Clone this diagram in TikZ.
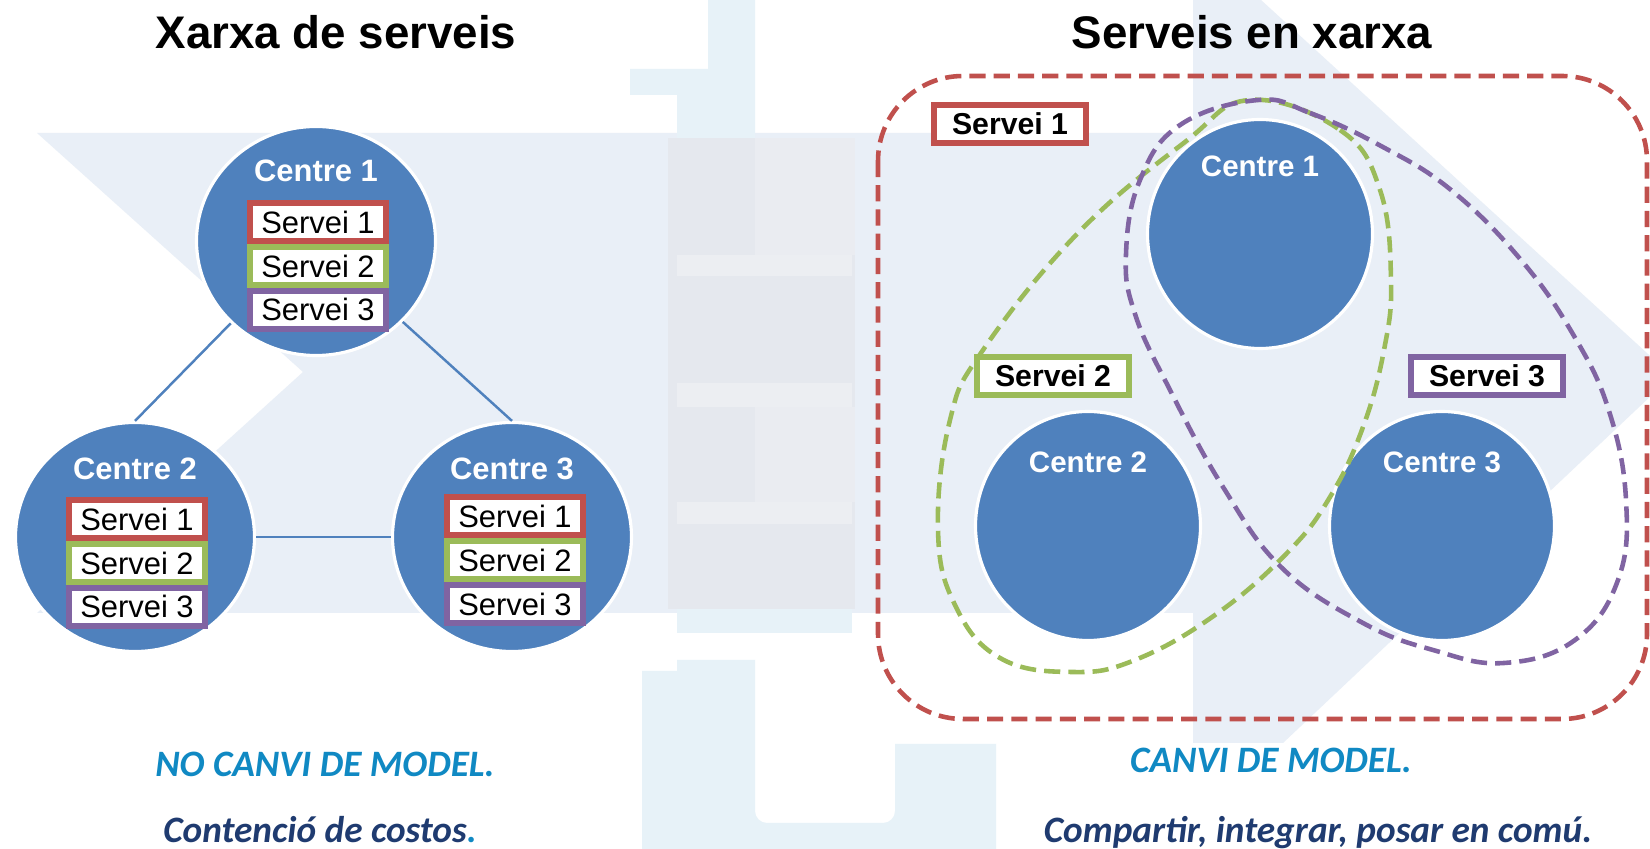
\documentclass[tikz,border=0pt]{standalone}
\usepackage{fontspec}
\setmainfont{Liberation Sans}
\newfontfamily\calibri{Carlito}
\usepackage{tikz}
\usetikzlibrary{shapes.geometric,positioning}

\definecolor{nodeblue}{RGB}{79,129,189}
\definecolor{s1red}{RGB}{192,80,77}
\definecolor{s2green}{RGB}{155,187,89}
\definecolor{s3purple}{RGB}{128,100,162}
\definecolor{band}{RGB}{233,239,247}
\definecolor{greyA}{RGB}{229,232,238}
\definecolor{greyB}{RGB}{234,236,241}
\definecolor{greyC}{RGB}{236,238,242}
\definecolor{pale}{RGB}{231,242,248}
\definecolor{txtcyan}{RGB}{16,137,195}
\definecolor{txtnavy}{RGB}{31,59,112}

\begin{document}
\begin{tikzpicture}[x=0.1mm,y=-0.1mm,
  centre/.style={ellipse,fill=nodeblue,draw=white,line width=0.9pt,inner sep=0pt,
    minimum width=23.9mm,minimum height=22.9mm},
  rcentre/.style={centre,minimum width=22.5mm,minimum height=22.9mm},
  ctext/.style={text=white,inner sep=0pt,font=\bfseries\fontsize{8.8}{10}\selectfont},
  rctext/.style={ctext,font=\bfseries\fontsize{8.4}{10}\selectfont},
  srv/.style={draw=#1,fill=white,line width=1.7pt,inner sep=0pt,
    minimum width=13.6mm,minimum height=3.8mm,font=\fontsize{8.8}{10}\selectfont},
  tag/.style={draw=#1,fill=white,line width=1.7pt,inner sep=0pt,
    minimum width=15.2mm,minimum height=3.8mm,font=\bfseries\fontsize{8.6}{10}\selectfont},
  group/.style={draw=#1,line width=1.3pt,dash pattern=on 4.6pt off 2.3pt},
  link/.style={draw=nodeblue,line width=0.7pt},
  title/.style={anchor=base,inner sep=0pt,font=\bfseries\fontsize{13}{15}\selectfont},
  note/.style={anchor=base,inner sep=0pt,font=\calibri\bfseries\itshape\fontsize{10.6}{12}\selectfont}]

  \fill[white] (0,0) rectangle (1650,849);
  \useasboundingbox (0,0) rectangle (1650,849);

  % watermark behind everything
  \fill[band] (37,133) -- (1193,133) -- (1193,0) -- (1261,0) -- (1672,376)
    -- (1283,743) -- (1193,743) -- (1193,613) -- (37,613) -- (303,372) -- cycle;
  \fill[pale] (630,69) -- (708,69) -- (708,0) -- (755,0) -- (755,138)
    -- (677,138) -- (677,95) -- (630,95) -- cycle;
  \fill[greyA] (668,138) rectangle (855,609);
  \fill[greyB] (755,138) rectangle (855,255);
  \fill[greyB] (755,407) rectangle (855,502);
  \foreach \ya/\yb in {255/276,383/407,502/524}
    \fill[greyC] (677,\ya) rectangle (852,\yb);
  \fill[pale] (677,609) rectangle (852,633);
  \fill[pale] (642,849) -- (642,671) -- (677,671) -- (677,660) -- (755,660)
    [rounded corners=1.2mm] -- (755,823) -- (895,823) [sharp corners] -- (895,744)
    -- (996,744) -- (996,849) -- cycle;

  % titles
  \node[title] (ltitle) at (336,49) {Xarxa de serveis};
  \node[title] (rtitle) at (1252,49) {Serveis en xarxa};

  % xarxa de serveis
  \node[centre] (c1) at (316,241) {};
  \node[centre] (c2) at (135,537) {};
  \node[centre] (c3) at (512,537) {};

  \draw[link] (c1.224) -- (c2.north);
  \draw[link] (c1.-43) -- (c3.north);
  \draw[link] (c2.east) -- (c3.west);

  \node[ctext] (c1t) at ([yshift=7mm]c1.center) {Centre 1};
  \node[srv=s1red] (c1s1) at ([xshift=0.2mm,yshift=1.9mm]c1.center) {Servei 1};
  \node[srv=s2green,below=0pt of c1s1] (c1s2) {Servei 2};
  \node[srv=s3purple,below=0pt of c1s2] (c1s3) {Servei 3};

  \node[ctext] (c2t) at ([yshift=6.8mm]c2.center) {Centre 2};
  \node[srv=s1red] (c2s1) at ([xshift=0.2mm,yshift=1.8mm]c2.center) {Servei 1};
  \node[srv=s2green,below=0pt of c2s1] (c2s2) {Servei 2};
  \node[srv=s3purple,below=0pt of c2s2] (c2s3) {Servei 3};

  \node[ctext] (c3t) at ([yshift=6.8mm]c3.center) {Centre 3};
  \node[srv=s1red] (c3s1) at ([xshift=0.3mm,yshift=2.1mm]c3.center) {Servei 1};
  \node[srv=s2green,below=0pt of c3s1] (c3s2) {Servei 2};
  \node[srv=s3purple,below=0pt of c3s2] (c3s3) {Servei 3};

  % serveis en xarxa
  \draw[group=s1red,rounded corners=8.5mm] (878,76) rectangle (1647,719);

  \node[rcentre] (r1) at (1260,234) {};
  \node[rcentre] (r2) at (1088,526) {};
  \node[rcentre] (r3) at (1442,526) {};
  \node[rctext] (r1t) at ([yshift=6.8mm]r1.center) {Centre 1};
  \node[rctext] (r2t) at ([yshift=6.4mm]r2.center) {Centre 2};
  \node[rctext] (r3t) at ([yshift=6.4mm]r3.center) {Centre 3};

  \draw[group=s2green] plot[smooth cycle,tension=0.7] coordinates {
    (1250,100) (1340,130) (1380,190) (1391,280) (1384,350) (1363,427)
    (1330,497) (1287,553) (1215,615) (1135,660) (1072,672) (1000,658)
    (955,605) (938,530) (950,420) (983,350) (1078,233) (1185,142)};
  \draw[group=s3purple] plot[smooth cycle,tension=0.7] coordinates {
    (1258,100) (1310,113) (1381,146) (1451,190) (1521,260) (1574,336)
    (1609,411) (1626,500) (1618,580) (1575,640) (1504,663) (1433,650)
    (1363,623) (1282,568) (1223,487) (1170,390) (1135,314) (1126,254)
    (1140,180) (1180,125)};

  \node[tag=s1red] (t1) at (1010,124) {Servei 1};
  \node[tag=s2green] (t2) at (1053,376) {Servei 2};
  \node[tag=s3purple] (t3) at (1487,376) {Servei 3};

  % bottom captions
  \node[note,text=txtcyan] (lmodel) at (325,777) {NO CANVI DE MODEL.};
  \node[note,text=txtnavy] (lcost) at (320,843) {Contenció de costos\textcolor{txtcyan}{.}};
  \node[note,text=txtcyan] (rmodel) at (1271,773) {CANVI DE MODEL.};
  \node[note,text=txtnavy] (rshare) at (1318,843) {Compartir, integrar, posar en comú.};
\end{tikzpicture}
\end{document}
